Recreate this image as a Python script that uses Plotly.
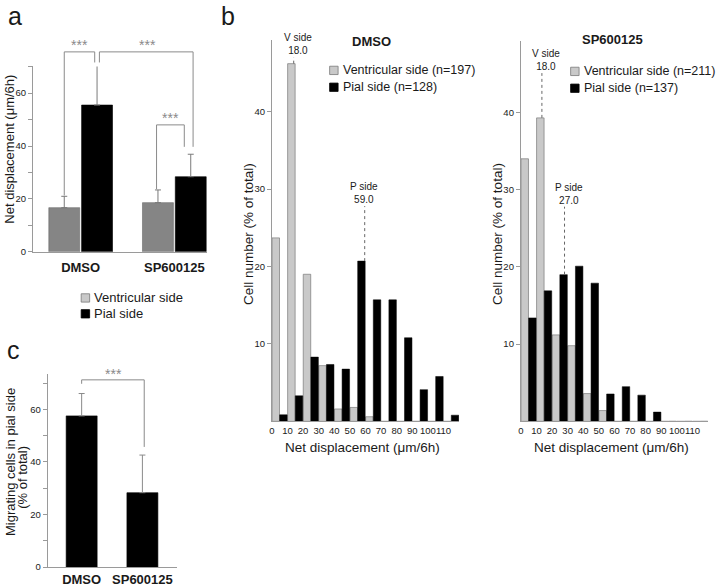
import plotly.graph_objects as go

W, H = 720, 588
FONT = "Liberation Sans, Arial, Helvetica, sans-serif"

# ---------------- data ----------------
# panel a
groups_a = ["DMSO", "SP600125"]
vent_a = [16.7, 18.6]
vent_a_err = [4.3, 4.8]
pial_a = [55.5, 28.4]
pial_a_err = [15.1, 8.5]

# panel c
groups_c = ["DMSO", "SP600125"]
pial_pct_c = [57.5, 28.3]
pial_pct_c_err = [8.5, 14.3]

# panel b histograms (bin starts, % of total)
bins = [0, 10, 20, 30, 40, 50, 60, 70, 80, 90, 100, 110]
dmso_vent = [23.7, 46.2, 19.0, 7.2, 1.6, 1.8, 0.6, 0, 0, 0, 0, 0]
dmso_pial = [0.85, 3.3, 8.3, 7.35, 6.75, 20.7, 15.7, 15.7, 10.8, 4.1, 5.8, 0.8]
sp_vent = [34.0, 39.3, 11.2, 9.8, 3.6, 1.4, 0, 0, 0, 0, 0, 0]
sp_pial = [13.4, 16.9, 19.0, 20.1, 17.9, 3.55, 4.5, 3.4, 1.2, 0, 0, 0]
xtick_b = [0, 10, 20, 30, 40, 50, 60, 70, 80, 90, 100, 110]

# median markers: (line x, text x, label value)
dmso_v_mark = (14.0, 16.5, "18.0")
dmso_p_mark = (59.5, 59.0, "59.0")
sp_v_mark = (13.5, 16.0, "18.0")
sp_p_mark = (28.0, 31.0, "27.0")

# ---------------- geometry (pixels) ----------------
A_X, A_XR = (30, 205), (-0.51, 1.35)
A_Y, A_YR = (254, 67), (0, 70.1)
C_X, C_XR = (45, 175), (-0.557, 1.574)
C_Y, C_YR = (572, 377), (0, 73.5)
B1_X, B2_X, B_XR = (270, 458), (520, 708), (0, 120)
B1_Y, B2_Y, B_YR = (425, 40), (425, 41), (0, 49.3)


def dom_x(p):
    return [p[0] / W, p[1] / W]


def dom_y(p):
    return [1 - p[0] / H, 1 - p[1] / H]


def v2px(v, rng, p):
    return p[0] + (v - rng[0]) / (rng[1] - rng[0]) * (p[1] - p[0])


def px2paper_x(px):
    return px / W


def px2paper_y(py):
    return 1 - py / H


fig = go.Figure()

GREY_A = "#858585"
GREY_B = "#c9c9c9"
EDGE = "#7a7a7a"
ERRC = "#7a7a7a"
AXC = "#9a9a9a"
TXT = "#1a1a1a"

# ---------------- panel a bars ----------------
idx_a = list(range(len(groups_a)))
fig.add_trace(go.Bar(x=idx_a, y=vent_a, xaxis="x", yaxis="y", offset=-0.34, width=0.33,
                     marker=dict(color=GREY_A, line=dict(color="#6a6a6a", width=0.6)),
                     error_y=dict(type="data", array=vent_a_err, arrayminus=[0] * 2, symmetric=False,
                                  color=ERRC, thickness=1, width=3),
                     showlegend=False, hoverinfo="skip"))
fig.add_trace(go.Bar(x=idx_a, y=pial_a, xaxis="x", yaxis="y", offset=0.01, width=0.33,
                     marker=dict(color="black", line=dict(color="black", width=0.6)),
                     error_y=dict(type="data", array=pial_a_err, arrayminus=[0] * 2, symmetric=False,
                                  color=ERRC, thickness=1, width=3),
                     showlegend=False, hoverinfo="skip"))

# ---------------- panel c bars ----------------
idx_c = list(range(len(groups_c)))
fig.add_trace(go.Bar(x=idx_c, y=pial_pct_c, xaxis="x2", yaxis="y2", offset=-0.255, width=0.51,
                     marker=dict(color="black", line=dict(color="black", width=0.6)),
                     error_y=dict(type="data", array=pial_pct_c_err, arrayminus=[0] * 2, symmetric=False,
                                  color="#8a8a8a", thickness=1, width=3),
                     showlegend=False, hoverinfo="skip"))

# ---------------- panel b histograms ----------------
for xa, ya, vent, pial in (("x3", "y3", dmso_vent, dmso_pial), ("x4", "y4", sp_vent, sp_pial)):
    fig.add_trace(go.Bar(x=bins, y=vent, xaxis=xa, yaxis=ya, offset=0.1, width=4.8,
                         marker=dict(color=GREY_B, line=dict(color=EDGE, width=0.7)),
                         showlegend=False, hoverinfo="skip"))
    fig.add_trace(go.Bar(x=bins, y=pial, xaxis=xa, yaxis=ya, offset=5.0, width=4.8,
                         marker=dict(color="black", line=dict(color="black", width=0.5)),
                         showlegend=False, hoverinfo="skip"))

# ---------------- axes ----------------
tickfont = dict(family=FONT, size=9.5, color=TXT)
common_y = dict(showgrid=False, zeroline=False, showline=True, linecolor=AXC, linewidth=1,
                ticks="outside", ticklen=4, tickcolor=AXC, tickfont=tickfont, fixedrange=True)

fig.update_layout(
    width=W, height=H, margin=dict(l=0, r=0, t=0, b=0),
    paper_bgcolor="white", plot_bgcolor="white",
    font=dict(family=FONT, color=TXT),
    barmode="overlay",
    xaxis=dict(domain=dom_x(A_X), range=list(A_XR), anchor="y", showgrid=False, zeroline=False,
               showline=True, linecolor=AXC, linewidth=1, ticks="", fixedrange=True,
               tickvals=idx_a, ticktext=groups_a, tickangle=0,
               tickfont=dict(family=FONT, size=13, color=TXT, weight="bold"), ticklabelstandoff=4),
    yaxis=dict(domain=dom_y(A_Y), range=list(A_YR), anchor="x",
               tickvals=[0, 10, 20, 30, 40, 50, 60, 70], ticktext=["0", "", "20", "", "40", "", "60", ""],
               **common_y),
    xaxis2=dict(domain=dom_x(C_X), range=list(C_XR), anchor="y2", showgrid=False, zeroline=False,
                showline=True, linecolor=AXC, linewidth=1, ticks="", fixedrange=True,
                tickvals=idx_c, ticktext=groups_c, tickangle=0,
                tickfont=dict(family=FONT, size=13, color=TXT, weight="bold"), ticklabelstandoff=0),
    yaxis2=dict(domain=dom_y(C_Y), range=list(C_YR), anchor="x2",
                tickvals=[0, 10, 20, 30, 40, 50, 60, 70], ticktext=["0", "", "20", "", "40", "", "60", ""],
                **common_y),
    xaxis3=dict(domain=dom_x(B1_X), range=list(B_XR), anchor="y3", showgrid=False, zeroline=False,
                showline=True, linecolor=AXC, linewidth=1, ticks="", tickangle=0, fixedrange=True,
                tickvals=xtick_b, ticktext=[str(t) for t in xtick_b], tickfont=tickfont),
    yaxis3=dict(domain=dom_y(B1_Y), range=list(B_YR), anchor="x3",
                tickvals=[10, 20, 30, 40], ticktext=["10", "20", "30", "40"], **common_y),
    xaxis4=dict(domain=dom_x(B2_X), range=list(B_XR), anchor="y4", showgrid=False, zeroline=False,
                showline=True, linecolor=AXC, linewidth=1, ticks="", tickangle=0, fixedrange=True,
                tickvals=xtick_b, ticktext=[str(t) for t in xtick_b], tickfont=tickfont),
    yaxis4=dict(domain=dom_y(B2_Y), range=list(B_YR), anchor="x4",
                tickvals=[10, 20, 30, 40], ticktext=["10", "20", "30", "40"], **common_y),
)

shapes = []
annots = []


def line_px(x0, y0, x1, y1, color="#8a8a8a", width=1, dash="solid"):
    shapes.append(dict(type="line", xref="paper", yref="paper",
                       x0=px2paper_x(x0), y0=px2paper_y(y0), x1=px2paper_x(x1), y1=px2paper_y(y1),
                       line=dict(color=color, width=width, dash=dash)))


def text_px(x, y, text, size=13, color=TXT, xanchor="center", yanchor="middle", angle=0, bold=False,
            align="center"):
    annots.append(dict(xref="paper", yref="paper", x=px2paper_x(x), y=px2paper_y(y), text=text,
                       showarrow=False, xanchor=xanchor, yanchor=yanchor, textangle=angle, align=align,
                       font=dict(family=FONT, size=size, color=color, weight="bold" if bold else "normal")))


def apx(xv):
    return v2px(xv, A_XR, A_X)


def apy(yv):
    return v2px(yv, A_YR, A_Y)


# ---------------- panel a brackets ----------------
BR = "#8a8a8a"
STAR = "#8a8a8a"
top_a = 75.6
# DMSO vent vs pial
line_px(apx(-0.175), apy(vent_a[0] + vent_a_err[0] + 0.3), apx(-0.175), apy(top_a), BR)
line_px(apx(-0.175), apy(top_a), apx(0.15), apy(top_a), BR)
line_px(apx(0.15), apy(top_a), apx(0.15), apy(71.6), BR)
text_px(apx(-0.01), apy(78.3), "***", size=14, color=STAR)
# DMSO pial vs SP pial
line_px(apx(0.20), apy(71.6), apx(0.20), apy(top_a), BR)
line_px(apx(0.20), apy(top_a), apx(1.20), apy(top_a), BR)
line_px(apx(1.20), apy(top_a), apx(1.20), apy(39.7), BR)
text_px(apx(0.71), apy(78.3), "***", size=14, color=STAR)
# SP vent vs pial
line_px(apx(0.81), apy(vent_a[1] + vent_a_err[1] + 0.3), apx(0.81), apy(48.0), BR)
line_px(apx(0.81), apy(48.0), apx(1.106), apy(48.0), BR)
line_px(apx(1.106), apy(48.0), apx(1.106), apy(39.7), BR)
text_px(apx(0.96), apy(50.6), "***", size=14, color=STAR)


def cpx(xv):
    return v2px(xv, C_XR, C_X)


def cpy(yv):
    return v2px(yv, C_YR, C_Y)


# ---------------- panel c bracket ----------------
line_px(cpx(0.0), cpy(69.7), cpx(0.0), cpy(71.2), BR)
line_px(cpx(0.0), cpy(71.2), cpx(1.03), cpy(71.2), BR)
line_px(cpx(1.03), cpy(71.2), cpx(1.03), cpy(45.7), BR)
text_px(cpx(0.52), cpy(73.4), "***", size=14, color=STAR)

# ---------------- panel b median markers ----------------
for (lx, tx, lab), bx, heights, kind, ttop in (
        (dmso_v_mark, B1_X, dmso_vent, "V side", 47.0),
        (dmso_p_mark, B1_X, dmso_pial, "P side", 27.8),
        (sp_v_mark, B2_X, sp_vent, "V side", 45.1),
        (sp_p_mark, B2_X, sp_pial, "P side", 27.8)):
    by = B1_Y if bx == B1_X else B2_Y
    hb = heights[int(lx // 10)]
    x_line = v2px(lx, B_XR, bx)
    line_px(x_line, v2px(hb, B_YR, by), x_line, v2px(ttop, B_YR, by), color="#666666", width=1, dash="dot")
    text_px(v2px(tx, B_XR, bx), v2px(ttop, B_YR, by) + 1, kind + "<br>" + lab, size=10, yanchor="bottom")

# ---------------- titles / labels ----------------
text_px(12, 16, "a", size=25)
text_px(226, 16, "b", size=25)
text_px(11, 353, "c", size=25)

text_px(7, 150, "Net displacement (μm/6h)", size=13, angle=-90)
text_px(7, 466, "Migrating cells in pial side", size=13, angle=-90)
text_px(20, 481, "(% of total)", size=13, angle=-90)

text_px(247, 236, "Cell number (% of total)", size=13.5, angle=-90)
text_px(497, 236, "Cell number (% of total)", size=13.5, angle=-90)
text_px(361, 451, "Net displacement (μm/6h)", size=13.5)
text_px(611, 451, "Net displacement (μm/6h)", size=13.5)

text_px(370, 42, "DMSO", size=13, bold=True)
text_px(612, 40, "SP600125", size=13, bold=True)


# legends
def legend_item(sx, sy, color, edge, label, size):
    shapes.append(dict(type="rect", xref="paper", yref="paper",
                       x0=px2paper_x(sx), x1=px2paper_x(sx + 8.5), y0=px2paper_y(sy + 4.2),
                       y1=px2paper_y(sy - 4.2), fillcolor=color, line=dict(color=edge, width=0.8)))
    text_px(sx + 11, sy, label, size=size, xanchor="left")


legend_item(78.5, 300.5, GREY_B, EDGE, "Ventricular side", 13)
legend_item(78.5, 316.5, "black", "black", "Pial side", 13)
legend_item(328, 71, GREY_B, EDGE, "Ventricular side (n=197)", 12.5)
legend_item(328, 88, "black", "black", "Pial side (n=128)", 12.5)
legend_item(570, 72, GREY_B, EDGE, "Ventricular side (n=211)", 12.5)
legend_item(570, 89, "black", "black", "Pial side (n=137)", 12.5)

fig.update_layout(shapes=shapes, annotations=annots)
fig.write_html("out.html", config={"displayModeBar": False, "staticPlot": True},
               post_script="document.body.style.margin='0';document.body.style.padding='0';")
